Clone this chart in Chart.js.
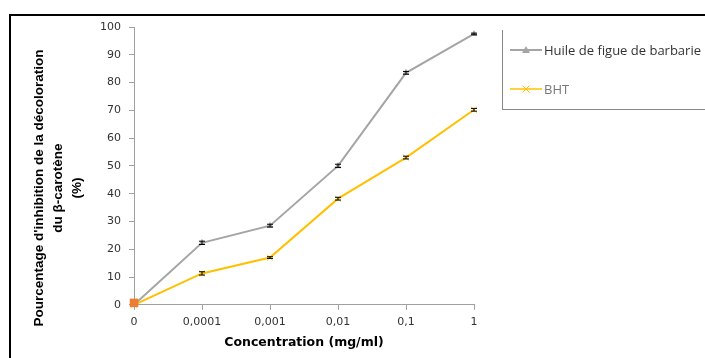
<!DOCTYPE html>
<html>
<head>
<meta charset="utf-8">
<script src="https://cdn.jsdelivr.net/npm/chart.js@4/dist/chart.umd.min.js"></script>
<style>
  body { margin: 0; background: #fff; }
  #wrap { position: relative; width: 705px; height: 358px; }
  #frameTop { position: absolute; left: 9px; top: 14px; width: 696px; height: 2px; background: #000; }
  #frameLeft { position: absolute; left: 9px; top: 14px; width: 2px; height: 344px; background: #000; }
  #ytitle { position: absolute; left: -80px; top: 157px; width: 280px; height: 62px;
    transform: rotate(-90deg); text-align: center; font-family: "Liberation Sans Narrow", "Liberation Sans", sans-serif;
    font-weight: bold; font-size: 13.5px; line-height: 19px; color: #000; }
  #legend { position: absolute; left: 502px; top: 30px; width: 203px; height: 79px;
    border-left: 1px solid #888; border-bottom: 1px solid #888; font-family: "Open Sans", sans-serif; font-size: 13px; color: #333; }
  .item { position: absolute; left: 7px; height: 14px; display: flex; align-items: center; white-space: nowrap; }
  .item svg { margin-right: 2px; }
</style>
</head>
<body>
<div id="wrap">
  <canvas id="myChart" width="705" height="358"></canvas>
  <div id="frameTop"></div>
  <div id="frameLeft"></div>
  <div id="ytitle">Pourcentage d'inhibition de la décoloration<br>du β-carotène<br>(%)</div>
  <div id="legend">
    <div class="item" style="top:13px">
      <svg width="32" height="10"><line x1="0" y1="5" x2="32" y2="5" stroke="#A5A5A5" stroke-width="2"/><polygon points="16,1 20,8 12,8" fill="#A5A5A5"/></svg>
      <span>Huile de figue de barbarie</span>
    </div>
    <div class="item" style="top:52px">
      <svg width="32" height="10"><line x1="0" y1="5" x2="32" y2="5" stroke="#FFC000" stroke-width="1.5"/><path d="M12.5,1.5 L19.5,8.5 M19.5,1.5 L12.5,8.5" stroke="#FFC000" stroke-width="1"/></svg>
      <span style="color:#777">BHT</span>
    </div>
  </div>
</div>
<script>
const concentrations = ['0', '0,0001', '0,001', '0,01', '0,1', '1'];
const huileValues = [0, 22.3, 28.5, 50, 83.5, 97.5];
const huileErrors = [0, 0.6, 0.5, 0.6, 0.5, 0.3];
const bhtValues = [0, 11.3, 17, 38.2, 53, 70.2];
const bhtErrors = [0, 0.6, 0.3, 0.5, 0.5, 0.5];
const controlValues = [0.7, null, null, null, null, null];

const errorBars = {
    id: 'errorBars',
    afterDatasetsDraw(chart) {
        const ctx = chart.ctx;
        const y = chart.scales.y;
        chart.data.datasets.forEach((ds, i) => {
            if (!ds.errors) return;
            const meta = chart.getDatasetMeta(i);
            meta.data.forEach((pt, j) => {
                const e = ds.errors[j];
                if (!e) return;
                const v = ds.data[j];
                const top = y.getPixelForValue(v + e);
                const bot = y.getPixelForValue(v - e);
                ctx.save();
                ctx.strokeStyle = '#000';
                ctx.lineWidth = 1;
                ctx.beginPath();
                ctx.moveTo(pt.x, top); ctx.lineTo(pt.x, bot);
                ctx.moveTo(pt.x - 3, top); ctx.lineTo(pt.x + 3, top);
                ctx.moveTo(pt.x - 3, bot); ctx.lineTo(pt.x + 3, bot);
                ctx.stroke();
                ctx.restore();
            });
        });
    }
};

const ctx = document.getElementById('myChart').getContext('2d');
const myChart = new Chart(ctx, {
    type: 'line',
    data: {
        labels: concentrations,
        datasets: [{
            label: 'Huile de figue de barbarie',
            data: huileValues,
            errors: huileErrors,
            borderColor: '#A5A5A5',
            backgroundColor: '#A5A5A5',
            borderWidth: 2,
            pointStyle: 'triangle',
            pointRadius: 4,
            pointBorderWidth: 0,
            clip: false,
        }, {
            label: 'BHT',
            data: bhtValues,
            errors: bhtErrors,
            borderColor: '#FFC000',
            backgroundColor: '#FFC000',
            borderWidth: 2,
            pointStyle: 'crossRot',
            pointRadius: 4,
            pointBorderWidth: 1,
            clip: false,
        }, {
            label: 'serie3',
            data: controlValues,
            order: -1,
            borderColor: '#ED7D31',
            backgroundColor: '#ED7D31',
            pointStyle: 'rect',
            pointRadius: 6,
            pointBorderWidth: 0,
            showLine: false,
            clip: false,
        }]
    },
    options: {
        responsive: false,
        animation: false,
        layout: { padding: { left: 10, right: 231, top: 27, bottom: 8 } },
        scales: {
            x: {
                offset: false,
                grid: { drawOnChartArea: false, drawTicks: true, tickLength: 5, color: '#A0A0A0' },
                border: { color: '#A0A0A0', width: 1 },
                ticks: { color: '#333', font: { family: 'DejaVu Sans', size: 11 }, padding: 6, maxRotation: 0 },
                title: { display: true, text: 'Concentration (mg/ml)', color: '#000', font: { family: 'DejaVu Sans', size: 12.5, weight: 'bold' }, padding: { top: 0, bottom: 0 } }
            },
            y: {
                min: 0,
                max: 100,
                afterFit(scale) { scale.width = 124; },
                grid: { drawOnChartArea: false, drawTicks: true, tickLength: 5, color: '#A0A0A0' },
                border: { color: '#A0A0A0', width: 1 },
                ticks: { stepSize: 10, color: '#333', font: { family: 'DejaVu Sans', size: 11 }, padding: 8 }
            }
        },
        plugins: {
            legend: { display: false },
            tooltip: { enabled: false }
        }
    },
    plugins: [errorBars]
});
</script>
</body>
</html>
